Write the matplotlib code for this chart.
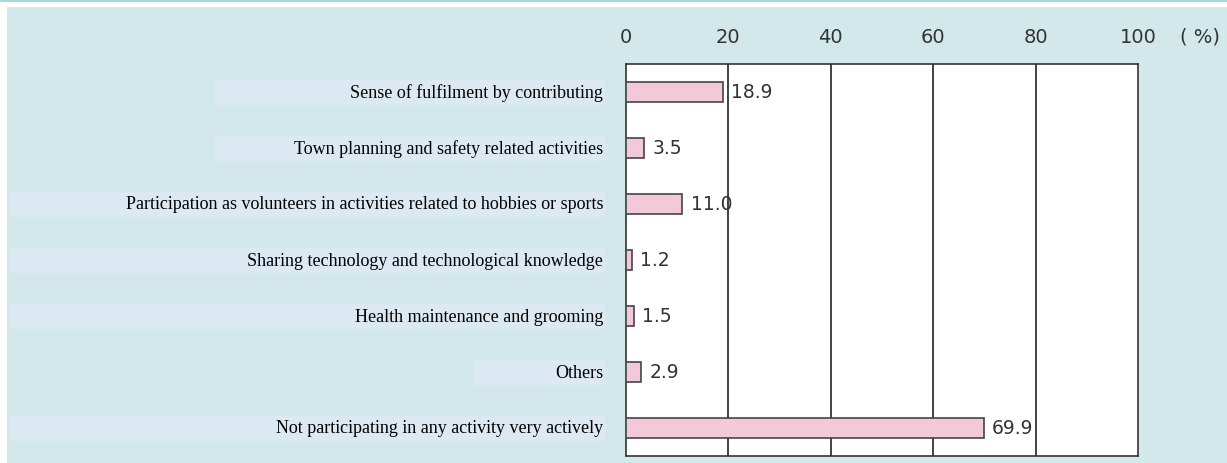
import matplotlib.pyplot as plt
from matplotlib.patches import Rectangle

categories = [
    "Sense of fulfilment by contributing",
    "Town planning and safety related activities",
    "Participation as volunteers in activities related to hobbies or sports",
    "Sharing technology and technological knowledge",
    "Health maintenance and grooming",
    "Others",
    "Not participating in any activity very actively",
]
values = [18.9, 3.5, 11.0, 1.2, 1.5, 2.9, 69.9]
ticks = [0, 20, 40, 60, 80, 100]

# left edge (pixels) of the pale box behind each label
box_left = [215, 215, 10, 10, 10, 473, 10]

W, H = 1227, 464
fig = plt.figure(figsize=(W / 100, H / 100), dpi=100)
fig.patch.set_facecolor("white")

# background panel + top stripe
fig.patches.append(Rectangle((7 / W, 0), 1, (H - 8) / H, transform=fig.transFigure,
                             facecolor="#d3e8eb", edgecolor="none", zorder=-3))
fig.patches.append(Rectangle((0, (H - 3) / H), 1, 3 / H, transform=fig.transFigure,
                             facecolor="#a6d9e0", edgecolor="none", zorder=-3))

ax = fig.add_axes([626 / W, 7 / H, 512 / W, 392 / H])
ax.set_facecolor("white")

y = list(range(len(values)))
ax.barh(y, values, height=0.36, color="#f3c9d8", edgecolor="#444444", linewidth=1.2, zorder=3)
for yi, v in zip(y, values):
    ax.annotate(f"{v:.1f}", (v, yi), xytext=(6, 0), textcoords="offset points",
                ha="left", va="center", fontsize=13.5, color="#333333",
                family="DejaVu Sans", zorder=4)

ax.set_xlim(0, 100)
ax.set_ylim(6.5, -0.5)
ax.set_xticks(ticks)
ax.xaxis.tick_top()
ax.tick_params(axis="x", length=0, pad=13, labelsize=14, labelcolor="#333333")
ax.set_yticks([])
for t in ticks[1:-1]:
    ax.axvline(t, color="#222222", linewidth=1.2, zorder=1)
for s in ax.spines.values():
    s.set_color("#333333")
    s.set_linewidth(1.2)

fig.text(1200 / W, 1 - 37 / H, "( %)", ha="center", va="center",
         fontsize=14, color="#333333")

# category labels with pale boxes
for i, (lab, left) in enumerate(zip(categories, box_left)):
    cy = 1 - (93 + 56 * i) / H
    fig.patches.append(Rectangle((left / W, cy - 12.5 / H), (605 - left) / W, 25 / H,
                                 transform=fig.transFigure, facecolor="#dce9f3",
                                 edgecolor="none", zorder=-2))
    fig.text(603 / W, cy, lab, ha="right", va="center", fontsize=13,
             family="Liberation Serif", color="black")

fig.savefig("out.png", dpi=100)
